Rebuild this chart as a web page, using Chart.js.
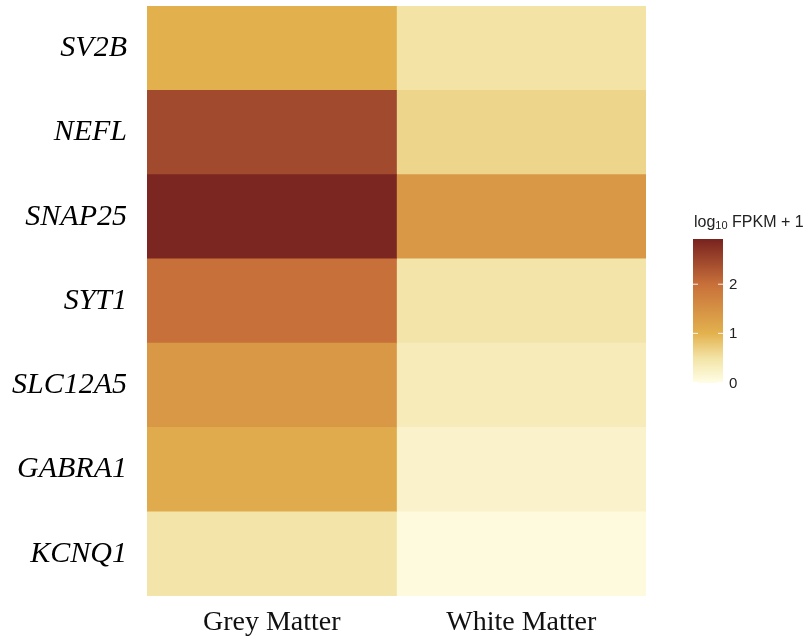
<!DOCTYPE html>
<html>
<head>
<meta charset="utf-8">
<script src="https://cdn.jsdelivr.net/npm/chart.js@4/dist/chart.umd.min.js"></script>
<style>
  html, body { margin: 0; padding: 0; background: #fff; }
  #wrap { width: 807px; height: 638px; }
</style>
</head>
<body>
<div id="wrap"><canvas id="heat"></canvas></div>
<script>
// data (log10 FPKM + 1)
const genes = ['SV2B', 'NEFL', 'SNAP25', 'SYT1', 'SLC12A5', 'GABRA1', 'KCNQ1'];
const tissues = ['Grey Matter', 'White Matter'];
const greyMatter = [1.02, 2.45, 2.88, 2.0, 1.4, 1.1, 0.48];
const whiteMatter = [0.5, 0.65, 1.4, 0.48, 0.35, 0.22, 0.06];
const legendTicks = [0, 1, 2];
const legendMax = 2.92;

// colour ramp stops: value -> colour
const stopValues = [0, 0.5, 1, 2, 2.9];
const stopColors = ['#fffde6', '#f3e4a6', '#e3b24e', '#c8703a', '#7a2420'];

function hexToRgb(h) {
  return [parseInt(h.slice(1, 3), 16), parseInt(h.slice(3, 5), 16), parseInt(h.slice(5, 7), 16)];
}

function colorFor(v) {
  if (v <= stopValues[0]) return stopColors[0];
  for (let i = 1; i < stopValues.length; i++) {
    if (v <= stopValues[i]) {
      const t = (v - stopValues[i - 1]) / (stopValues[i] - stopValues[i - 1]);
      const a = hexToRgb(stopColors[i - 1]), b = hexToRgb(stopColors[i]);
      const c = a.map((x, k) => Math.round(x + (b[k] - x) * t));
      return `rgb(${c[0]}, ${c[1]}, ${c[2]})`;
    }
  }
  return stopColors[stopColors.length - 1];
}

// colour bar legend drawn on the canvas
const colorBar = {
  id: 'colorBar',
  afterDraw(chart) {
    const ctx = chart.ctx;
    const x = 693, w = 30, top = 239, bottom = 383;
    const zeroY = 382.5;
    const perUnit = (zeroY - top) / legendMax;
    ctx.save();
    const grad = ctx.createLinearGradient(0, bottom, 0, top);
    for (let v = 0; v <= legendMax; v += 0.05) {
      grad.addColorStop(Math.min(1, v / legendMax), colorFor(v));
    }
    ctx.fillStyle = grad;
    ctx.fillRect(x, top, w, bottom - top);

    ctx.font = '15px "Liberation Sans", Arial, sans-serif';
    ctx.fillStyle = '#222';
    ctx.textBaseline = 'middle';
    legendTicks.forEach(t => {
      const y = zeroY - t * perUnit;
      ctx.strokeStyle = 'rgba(255,255,255,0.9)';
      ctx.lineWidth = 1;
      ctx.beginPath();
      ctx.moveTo(x, y); ctx.lineTo(x + 5, y);
      ctx.moveTo(x + w - 5, y); ctx.lineTo(x + w, y);
      ctx.stroke();
      ctx.fillText(String(t), x + 36, y + 1);
    });

    // title: log10 FPKM + 1
    ctx.textBaseline = 'alphabetic';
    let tx = 694;
    const ty = 227;
    ctx.font = '16px "Liberation Sans", Arial, sans-serif';
    ctx.fillText('log', tx, ty);
    tx += ctx.measureText('log').width;
    ctx.font = '11px "Liberation Sans", Arial, sans-serif';
    ctx.fillText('10', tx, ty + 2);
    tx += ctx.measureText('10').width;
    ctx.font = '16px "Liberation Sans", Arial, sans-serif';
    ctx.fillText(' FPKM + 1', tx, ty);
    ctx.restore();
  }
};

const columns = [greyMatter, whiteMatter];

new Chart(document.getElementById('heat'), {
  type: 'bar',
  data: {
    labels: genes,
    datasets: columns.map((vals, i) => ({
      label: tissues[i],
      data: vals.map(() => [i, i + 1]),
      backgroundColor: vals.map(colorFor),
      borderWidth: 0,
      barPercentage: 1,
      categoryPercentage: 1
    }))
  },
  options: {
    indexAxis: 'y',
    responsive: true,
    maintainAspectRatio: false,
    animation: false,
    layout: { padding: { top: 6, right: 161, left: 0, bottom: 0 } },
    plugins: { legend: { display: false }, tooltip: { enabled: false } },
    scales: {
      x: {
        min: 0,
        max: 2,
        grid: { display: false },
        border: { display: false },
        afterBuildTicks(scale) {
          scale.ticks = tissues.map((_, i) => ({ value: i + 0.5 }));
        },
        afterFit(scale) {
          scale.height = 42;
          scale.paddingLeft = 0;
          scale.paddingRight = 0;
        },
        ticks: {
          autoSkip: false,
          maxRotation: 0,
          padding: 2,
          color: '#111',
          font: { family: '"Liberation Serif", "Times New Roman", serif', size: 28 },
          callback: (v, i) => tissues[i]
        }
      },
      y: {
        stacked: true,
        grid: { display: false },
        border: { display: false },
        afterFit(scale) {
          scale.width = 147;
          scale.paddingTop = 0;
          scale.paddingBottom = 0;
        },
        ticks: {
          padding: 12,
          color: '#000',
          font: { family: '"Liberation Serif", "Times New Roman", serif', size: 30, style: 'italic' }
        }
      }
    }
  },
  plugins: [colorBar]
});
</script>
</body>
</html>
